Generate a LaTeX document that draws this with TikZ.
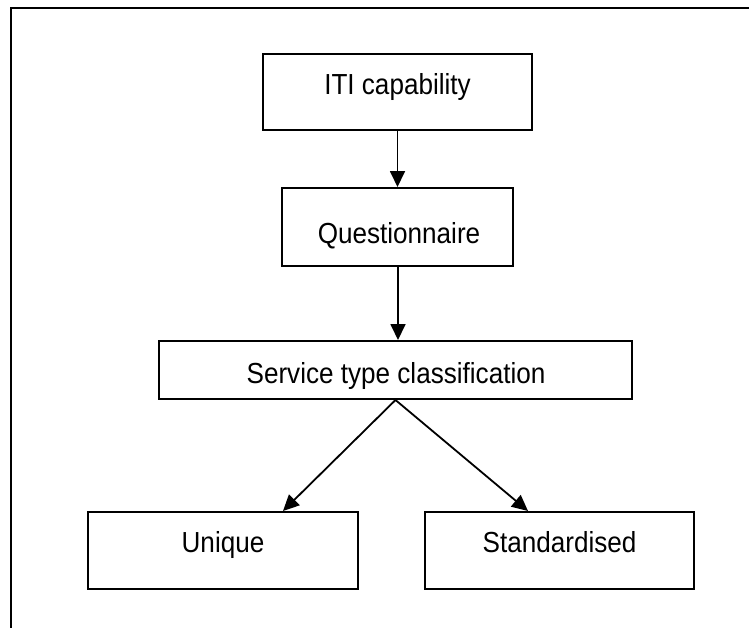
\documentclass[tikz,border=0pt]{standalone}
\usepackage{fontspec}
\setmainfont{Liberation Sans}[FakeStretch=0.9]
\usetikzlibrary{arrows.meta}

\tikzset{
  box/.style={draw=black, line width=2pt, rectangle, inner sep=0pt},
  lbl/.style={anchor=base, inner sep=0pt, font=\fontsize{29}{34}\selectfont},
  link/.style={draw=black, line width=1.8pt, -{Triangle[length=16pt,width=15pt]}},
  frame/.style={draw=black, line width=2.2pt},
}

\begin{document}
\begin{tikzpicture}[x=1pt, y=-1pt]
  \useasboundingbox (0,0) rectangle (749,627);

  % open outer frame (top and left edges)
  \coordinate (fr-bl) at (11,630);
  \coordinate (fr-tl) at (11,8);
  \coordinate (fr-tr) at (752,8);
  \draw[frame] (fr-bl) -- (fr-tl) -- (fr-tr);

  % boxes
  \node[box, minimum width=269pt, minimum height=76pt] (iti) at (397.5,92) {};
  \node[box, minimum width=231pt, minimum height=78pt] (q)   at (397.5,227) {};
  \node[box, minimum width=473pt, minimum height=58pt] (svc) at (395.5,370) {};
  \node[box, minimum width=270pt, minimum height=77pt] (uni) at (223,550.5) {};
  \node[box, minimum width=269pt, minimum height=77pt] (std) at (559.5,550.5) {};

  % box texts
  \node[lbl] (iti-t) at (397.5,94.5) {ITI capability};
  \node[lbl] (q-t)   at (399,243)  {Questionnaire};
  \node[lbl] (svc-t) at (396,383)   {Service type classification};
  \node[lbl] (uni-t) at (223,552)   {Unique};
  \node[lbl] (std-t) at (559.5,552) {Standardised};

  % connectors
  \draw[link] (iti.south) -- (q.north);
  \draw[link] ([xshift=0.5pt]q.south) -- ([xshift=0.5pt]q.south |- svc.north);
  \draw[link] (svc.south) -- ([xshift=60pt]uni.north);
  \draw[link] (svc.south) -- ([xshift=-31.5pt]std.north);
\end{tikzpicture}
\end{document}
